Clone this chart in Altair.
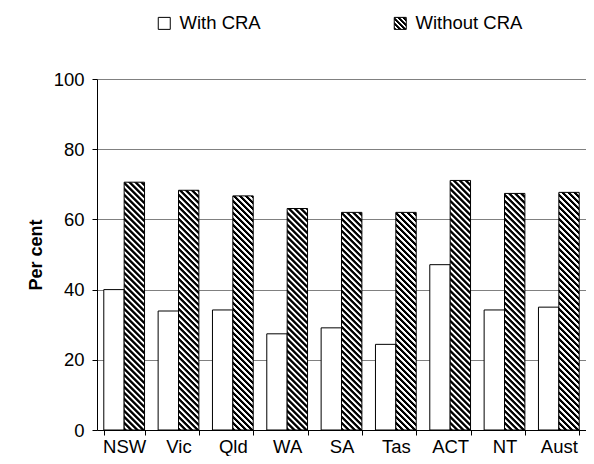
import math
import altair as alt
import pandas as pd

# ---- data ----
regions = ["NSW", "Vic", "Qld", "WA", "SA", "Tas", "ACT", "NT", "Aust"]
with_cra = [40.0, 33.9, 34.2, 27.4, 29.1, 24.4, 47.1, 34.2, 35.0]
without_cra = [70.6, 68.3, 66.7, 63.1, 62.0, 62.0, 71.1, 67.4, 67.7]
series_names = ["With CRA", "Without CRA"]

# ---- layout ----
PLOT_W = 489
PLOT_H = 351
BAR_W = PLOT_W / len(regions) * 0.75 / 2
FONT = "Liberation Sans"


def hatch(w, h, period=6.0):
    """Diagonal '\\' hatch as an SVG linear gradient in bounding-box units."""
    L = w + h
    k = L / (w * w + h * h)
    x2 = k * w
    y2 = 1 - k * h
    pts = []
    n = int(math.ceil(L / period)) + 1
    for i in range(n):
        b = i * period
        pts += [(b, "#000000"), (b + 0.40 * period, "#000000"),
                (b + 0.55 * period, "#ffffff"), (b + 0.87 * period, "#ffffff")]
    stops = ",".join(
        "{offset:%.5f,color:'%s'}" % (min(max(s / L, 0.0), 1.0), c) for s, c in pts
    )
    return {"expr": "{gradient:'linear',x1:0,y1:1,x2:%.5f,y2:%.5f,stops:[%s]}" % (x2, y2, stops)}


rows = []
for r, a, b in zip(regions, with_cra, without_cra):
    rows.append({"region": r, "series": "With CRA", "value": a, "key": "With CRA"})
    rows.append({"region": r, "series": "Without CRA", "value": b, "key": "Without CRA|" + r})
df = pd.DataFrame(rows)

fill_domain = ["With CRA", "Without CRA"] + ["Without CRA|" + r for r in regions]
fill_range = ["#ffffff", hatch(12, 12, 5.0)] + [hatch(BAR_W, v / 100 * PLOT_H) for v in without_cra]

chart = (
    alt.Chart(df)
    .mark_bar(stroke="black", strokeWidth=1)
    .encode(
        x=alt.X(
            "region:N",
            sort=regions,
            scale=alt.Scale(paddingInner=0.25, paddingOuter=0.125),
            axis=alt.Axis(
                title=None, labelAngle=0, tickBand="extent", tickSize=5,
                labelPadding=2, domainColor="black", tickColor="black",
                labelColor="black", labelFontSize=18.5, labelFont=FONT, grid=False,
            ),
        ),
        xOffset=alt.XOffset(
            "series:N", sort=series_names,
            scale=alt.Scale(paddingInner=0, paddingOuter=0),
        ),
        y=alt.Y(
            "value:Q",
            scale=alt.Scale(domain=[0, 100]),
            axis=alt.Axis(
                values=[0, 20, 40, 60, 80, 100], title="Per cent",
                titleFontSize=18, titleFont=FONT, titleFontWeight="bold",
                titleColor="black", titlePadding=8,
                labelFontSize=18.5, labelFont=FONT, labelColor="black",
                labelPadding=8, tickSize=5, tickColor="black",
                domainColor="black", grid=True, gridColor="#808080",
                gridWidth=1,
            ),
        ),
        fill=alt.Fill(
            "key:N",
            scale=alt.Scale(domain=fill_domain, range=fill_range),
            legend=alt.Legend(
                values=series_names, title=None, orient="none",
                legendX=58, legendY=-65, direction="horizontal",
                symbolType="square", symbolSize=144,
                symbolStrokeColor="black", symbolStrokeWidth=1,
                labelFontSize=18.5, labelFont=FONT, labelColor="black",
                labelOffset=6, columnPadding=130, padding=0,
            ),
        ),
    )
    .properties(
        width=PLOT_W,
        height=PLOT_H,
        autosize=alt.AutoSizeParams(type="none"),
        padding={"left": 89, "top": 71, "right": 0, "bottom": 26},
    )
    .configure_view(stroke=None)
)

chart.save("out.html", embed_options={"renderer": "svg", "actions": False})
